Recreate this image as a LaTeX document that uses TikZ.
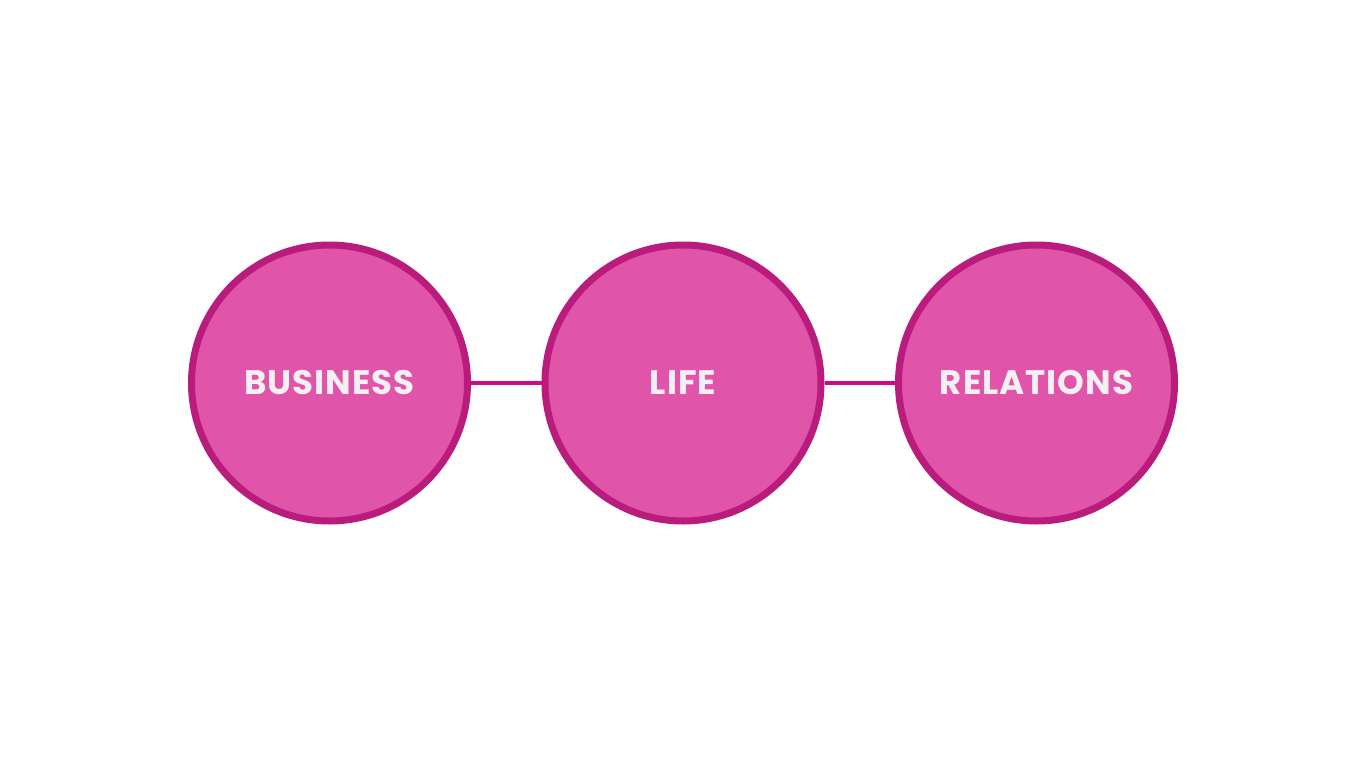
\documentclass[tikz,border=0pt]{standalone}
\usepackage{fontspec}
\newfontfamily\pop[LetterSpace=3]{Poppins}
\definecolor{ringc}{HTML}{B91C7D}
\definecolor{fillc}{HTML}{E055AA}
\definecolor{linec}{HTML}{CC0A8A}
\definecolor{txtc}{HTML}{F3F0F2}
\begin{document}
\begin{tikzpicture}[x=1pt,y=-1pt,
  bubble/.style={circle, draw=ringc, fill=fillc, line width=7pt, minimum size=276pt, inner sep=0pt,
    font=\pop\bfseries\fontsize{34}{40}\selectfont, text=txtc},
  link/.style={draw=linec, line width=3.5pt}]
\useasboundingbox (0,0) rectangle (1366,768);
\node[bubble] (b) at (329.5,383) {BUSINESS};
\node[bubble] (l) at (683,383) {LIFE};
\node[bubble] (r) at (1036.5,383) {RELATIONS};
\draw[link] (b.east) -- (l.west);
\draw[link] (l.east) -- (r.west);
\end{tikzpicture}
\end{document}
